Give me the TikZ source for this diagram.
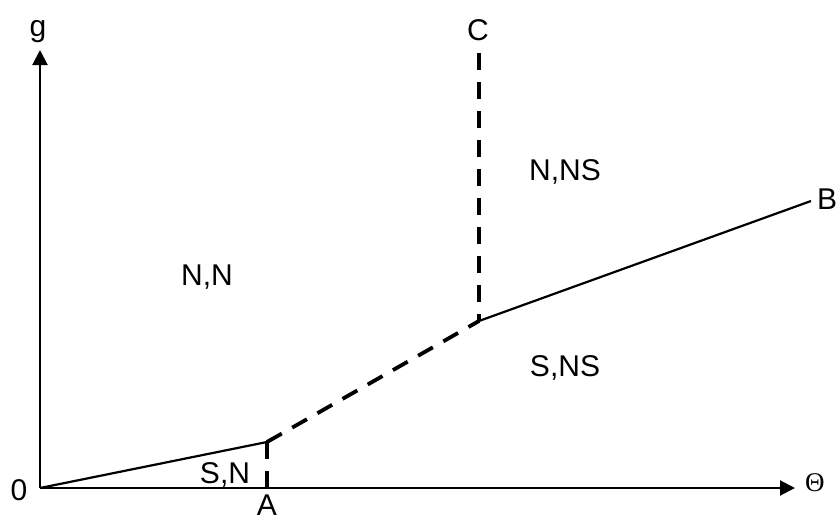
\documentclass[tikz,border=0pt]{standalone}
\usepackage{fontspec}
\setmainfont{Liberation Sans}
\newfontfamily\thetafont{Liberation Serif}
\usetikzlibrary{arrows.meta}
\begin{document}
\begin{tikzpicture}[x=1pt,y=-1pt,
  lbl/.style={anchor=base,inner sep=0pt,font=\fontsize{30}{36}\selectfont},
  axisline/.style={line width=2pt,-{Triangle[length=15pt,width=15pt]}},
  solidline/.style={line width=2.2pt},
  dashline/.style={line width=3.8pt,dash pattern=on 17pt off 12pt}]
\useasboundingbox (0,0) rectangle (839,522);
\coordinate (O) at (40,488);
\coordinate (ytip) at (40,50);
\coordinate (xtip) at (795,488);
\coordinate (Ap) at (267,442);
\coordinate (Abase) at (267,488);
\coordinate (J) at (479,321);
\coordinate (Ctop) at (479,53);
\coordinate (Bend) at (811,201);
% axes
\draw[axisline] (O) -- (ytip);
\draw[axisline] (O) -- (xtip);
% boundaries
\draw[solidline] (O) -- (Ap);
\draw[solidline] (J) -- (Bend);
\draw[dashline] (Ap) -- (Abase);
\draw[dashline] (Ap) -- (J);
\draw[dashline] (Ctop) -- (J);
% labels
\node[lbl] (g) at (38,36) {g};
\node[lbl] (zero) at (19,500) {0};
\node[lbl] (A) at (267,515) {A};
\node[lbl] (C) at (478,40) {C};
\node[lbl,anchor=base west] (B) at (817,209) {B};
\node[anchor=base west,inner sep=0pt,font=\thetafont\fontsize{27}{32}\selectfont] (theta) at (805,491) {Θ};
\node[lbl] (NN) at (207,285) {N,N};
\node[lbl] (NNS) at (565,180) {N,NS};
\node[lbl] (SNS) at (565,376) {S,NS};
\node[lbl] (SN) at (225,483) {S,N};
\end{tikzpicture}
\end{document}
